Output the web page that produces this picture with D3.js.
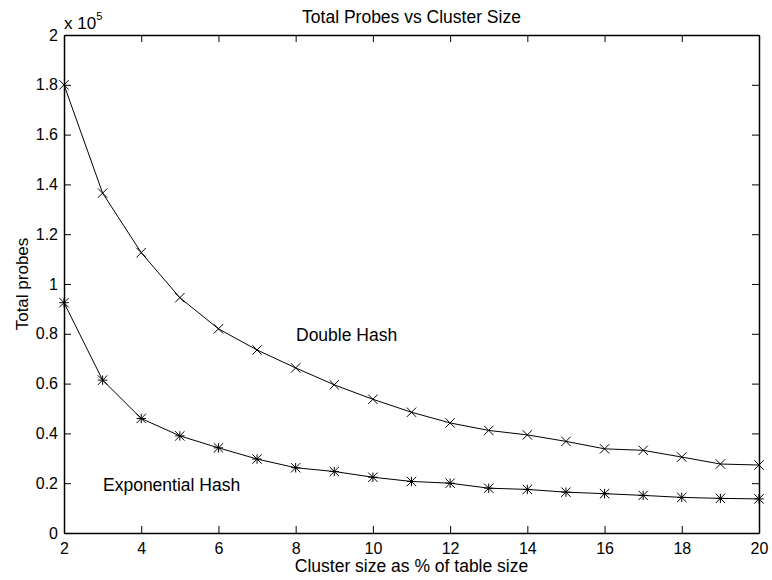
<!DOCTYPE html>
<html>
<head>
<meta charset="utf-8">
<script src="https://cdn.jsdelivr.net/npm/d3@7"></script>
<style>
  body { margin: 0; background: #fff; }
  text { font-family: "Liberation Sans", Arial, sans-serif; fill: #000; }
</style>
</head>
<body>
<div id="chart"></div>
<script>
const clusterSizes = [2, 3, 4, 5, 6, 7, 8, 9, 10, 11, 12, 13, 14, 15, 16, 17, 18, 19, 20];
const doubleHash = [180000, 136500, 112600, 94500, 82000, 73500, 66300, 59500, 53700, 48500,
    44200, 41200, 39400, 36800, 33800, 33200, 30500, 27700, 27300];
const exponentialHash = [92500, 61400, 46000, 39000, 34200, 29700, 26200, 24700, 22400, 20700,
    20000, 18000, 17500, 16400, 15800, 15100, 14300, 13900, 13700];
const xTicks = [2, 4, 6, 8, 10, 12, 14, 16, 18, 20];
const yTicks = [0, 20000, 40000, 60000, 80000, 100000, 120000, 140000, 160000, 180000, 200000];

const width = 772;
const height = 580;
const plotLeft = 64, plotRight = 759, plotTop = 35, plotBottom = 533;

const svg = d3.select('#chart')
    .append('svg')
    .attr('width', width)
    .attr('height', height);

const x = d3.scaleLinear().domain([2, 20]).range([plotLeft, plotRight]);
const y = d3.scaleLinear().domain([0, 200000]).range([plotBottom, plotTop]);
const fmtY = d => String(+(d / 1e5).toFixed(1));

// axes on all four sides, ticks pointing inward
function styleAxis(g) {
    g.select('.domain').attr('stroke', '#000').attr('stroke-width', 1.5);
    g.selectAll('.tick line').attr('stroke', '#000').attr('stroke-width', 1);
}

svg.append('g')
    .attr('transform', `translate(0,${plotBottom})`)
    .call(d3.axisBottom(x).tickValues(xTicks).tickSizeInner(-7).tickSizeOuter(0).tickPadding(10))
    .call(styleAxis)
    .call(g => g.selectAll('.tick text').attr('font-size', 16).attr('y', 10).attr('dy', '0.71em'));

svg.append('g')
    .attr('transform', `translate(0,${plotTop})`)
    .call(d3.axisTop(x).tickValues(xTicks).tickSizeInner(-7).tickSizeOuter(0).tickFormat(''))
    .call(styleAxis);

svg.append('g')
    .attr('transform', `translate(${plotLeft},0)`)
    .call(d3.axisLeft(y).tickValues(yTicks).tickSizeInner(-7).tickSizeOuter(0).tickPadding(6).tickFormat(fmtY))
    .call(styleAxis)
    .call(g => g.selectAll('.tick text').attr('font-size', 16).attr('x', -6));

svg.append('g')
    .attr('transform', `translate(${plotRight},0)`)
    .call(d3.axisRight(y).tickValues(yTicks).tickSizeInner(-7).tickSizeOuter(0).tickFormat(''))
    .call(styleAxis);

svg.selectAll('.tick text').attr('font-family', '"Liberation Sans", Arial, sans-serif').attr('fill', '#000');

const line = d3.line().x((d, i) => x(clusterSizes[i])).y(d => y(d));

[doubleHash, exponentialHash].forEach(series => {
    svg.append('path')
        .datum(series)
        .attr('d', line)
        .attr('fill', 'none')
        .attr('stroke', '#000')
        .attr('stroke-width', 1);
});

const r = 4.7;
// 'x' markers for double hash
svg.selectAll('.mark-x')
    .data(doubleHash)
    .enter()
    .append('path')
    .attr('class', 'mark-x')
    .attr('transform', (d, i) => `translate(${x(clusterSizes[i])},${y(d)})`)
    .attr('d', `M${-r},${-r}L${r},${r}M${-r},${r}L${r},${-r}`)
    .attr('stroke', '#000')
    .attr('stroke-width', 1);

// '*' markers for exponential hash
svg.selectAll('.mark-star')
    .data(exponentialHash)
    .enter()
    .append('path')
    .attr('class', 'mark-star')
    .attr('transform', (d, i) => `translate(${x(clusterSizes[i])},${y(d)})`)
    .attr('d', `M${-r},${-r}L${r},${r}M${-r},${r}L${r},${-r}M0,${-r}L0,${r}M${-r},0L${r},0`)
    .attr('stroke', '#000')
    .attr('stroke-width', 1);

// labels
svg.append('text')
    .attr('x', (plotLeft + plotRight) / 2)
    .attr('y', 23)
    .attr('text-anchor', 'middle')
    .attr('font-size', 17.5)
    .text('Total Probes vs Cluster Size');

svg.append('text')
    .attr('x', (plotLeft + plotRight) / 2)
    .attr('y', 572)
    .attr('text-anchor', 'middle')
    .attr('font-size', 17.5)
    .text('Cluster size as % of table size');

svg.append('text')
    .attr('transform', `translate(28,${(plotTop + plotBottom) / 2}) rotate(-90)`)
    .attr('text-anchor', 'middle')
    .attr('font-size', 17)
    .text('Total probes');

const expLabel = svg.append('text')
    .attr('x', plotLeft)
    .attr('y', 29)
    .attr('font-size', 17);
expLabel.append('tspan').text('x 10');
expLabel.append('tspan').attr('font-size', 11).attr('dy', -9).text('5');

svg.append('text')
    .attr('x', 296)
    .attr('y', 341)
    .attr('font-size', 17.5)
    .text('Double Hash');

svg.append('text')
    .attr('x', 103)
    .attr('y', 491)
    .attr('font-size', 17.5)
    .text('Exponential Hash');
</script>
</body>
</html>
